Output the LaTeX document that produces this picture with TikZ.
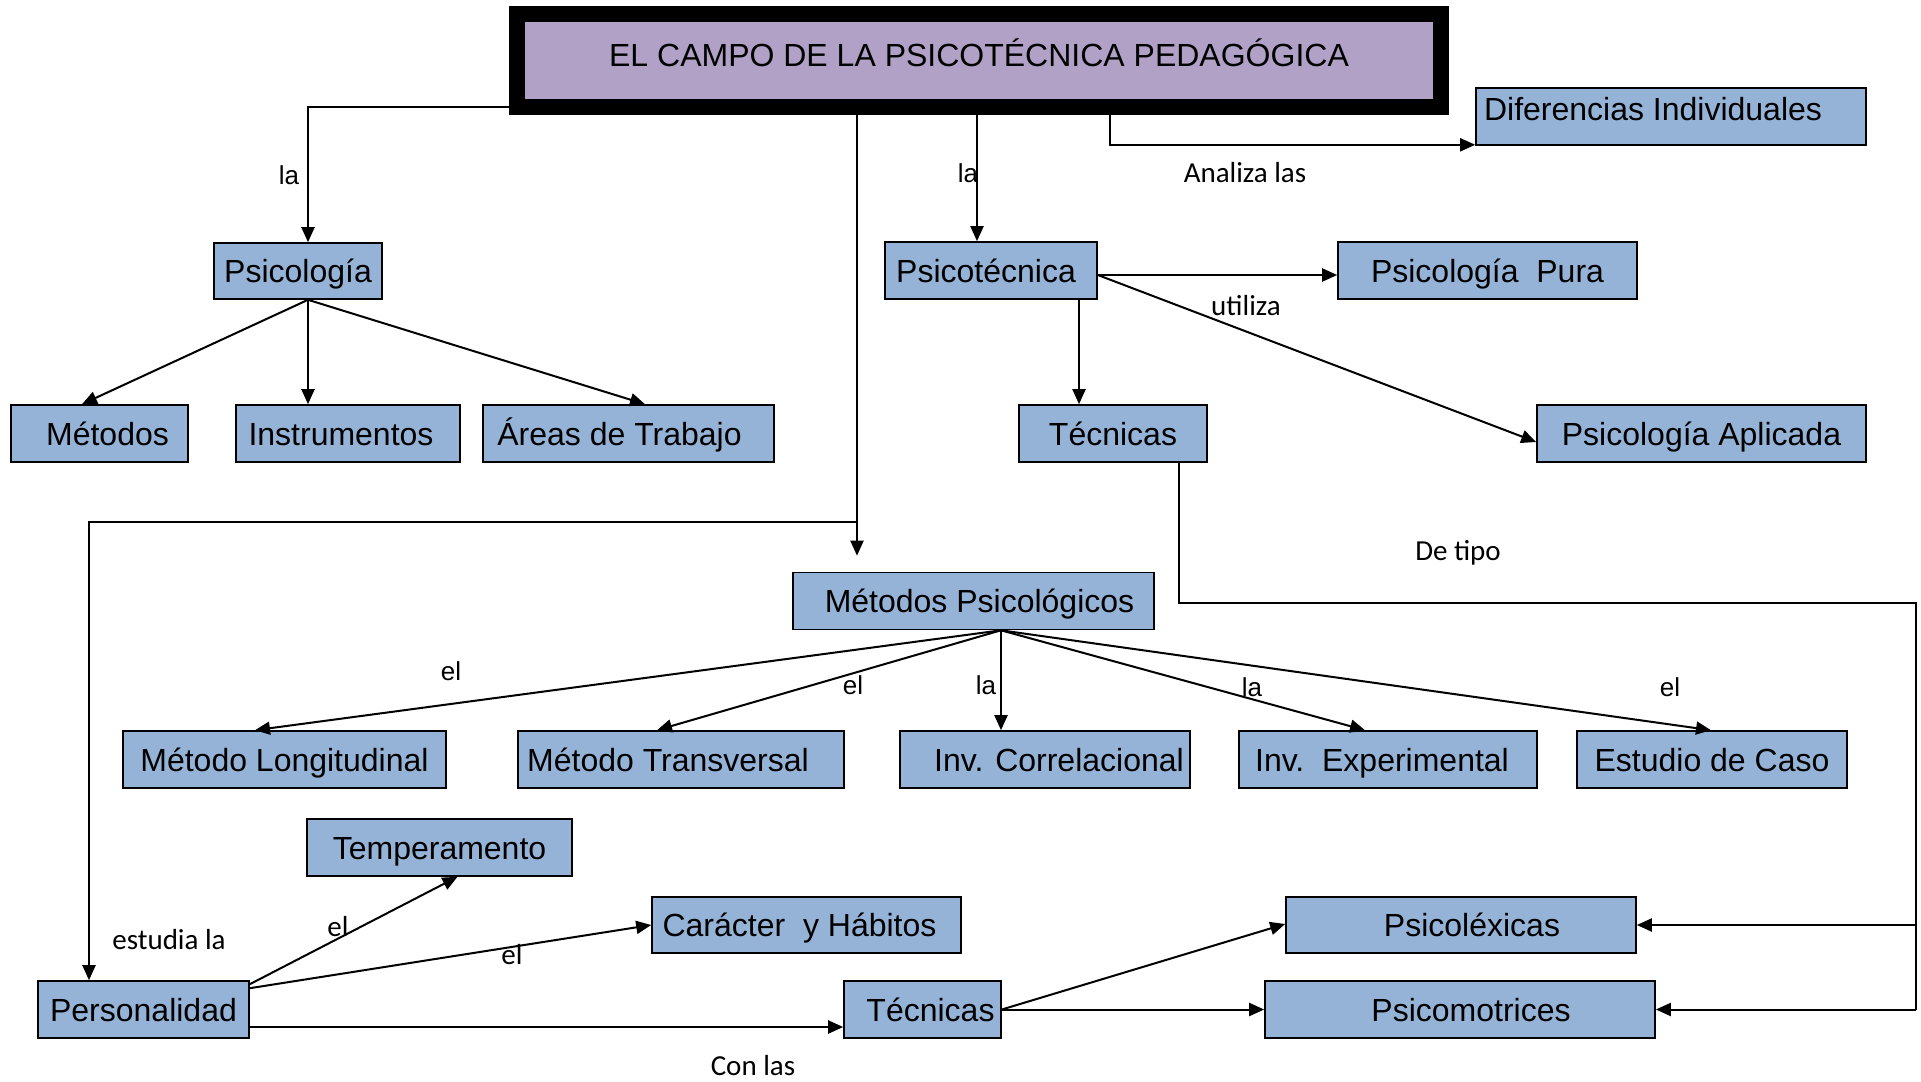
\documentclass[tikz,border=0pt]{standalone}
\usepackage{fontspec}
\setmainfont{Liberation Sans}
\newfontfamily\calfont{Carlito}
\usetikzlibrary{arrows.meta,calc}
\definecolor{boxblue}{HTML}{95B3D7}
\definecolor{titlepurple}{HTML}{B2A1C7}
\newcommand{\tx}[2]{\hspace*{#1pt}#2}
\begin{document}
\begin{tikzpicture}[x=0.5pt,y=-0.5pt,
  box/.style={draw=black, line width=0.8pt, fill=boxblue, inner sep=0pt, minimum height=28.5pt, text height=13pt, text depth=1.5pt, font=\fontsize{16}{19}\selectfont},
  titlebox/.style={draw=black, line width=8pt, outer sep=0pt, fill=titlepurple, inner sep=0pt, minimum width=462pt, minimum height=46.5pt, text height=9pt, text depth=2.5pt, font=\fontsize{16}{19}\selectfont},
  lab/.style={font=\fontsize{13}{15}\selectfont, inner sep=0pt},
  clab/.style={font=\calfont\fontsize{14.5}{17}\selectfont, inner sep=0pt},
  conn/.style={line width=1pt, -{Triangle[length=7.5pt,width=6.5pt]}},
  thinline/.style={line width=0.6pt}]
\useasboundingbox (0,0) rectangle (1921,1081);
\fill[white] (0,0) rectangle (1921,1081);

% nodes
\node[titlebox] (title) at (979,60.5) {EL CAMPO DE LA PSICOTÉCNICA PEDAGÓGICA};
\node[box, minimum width=195pt, text height=8pt, text depth=4pt] (difind) at (1671,116.5) {\tx{-18}{Diferencias Individuales}};
\node[box, minimum width=84pt, minimum height=28pt] (psi) at (298,271) {Psicología};
\node[box, minimum width=88.5pt] (met) at (99.5,433.5) {\tx{8}{Métodos}};
\node[box, minimum width=112pt] (ins) at (348,433.5) {\tx{-7}{Instrumentos}};
\node[box, minimum width=145.5pt] (are) at (628.5,433.5) {\tx{-9}{Áreas de Trabajo}};
\node[box, minimum width=106pt] (ptec) at (991,270.5) {\tx{-5}{Psicotécnica}};
\node[box, minimum width=149.5pt] (ppura) at (1487.5,270.5) {Psicología\ \ Pura};
\node[box, minimum width=94pt] (tec1) at (1113,433.5) {Técnicas};
\node[box, minimum width=164.5pt] (papl) at (1701.5,433.5) {Psicología Aplicada};
\node[box, minimum width=180.5pt] (mps) at (973.5,601) {\tx{6}{Métodos Psicológicos}};
\node[box, minimum width=161.5pt] (mlong) at (284.5,759.5) {Método Longitudinal};
\node[box, minimum width=163pt] (mtrans) at (681,759.5) {\tx{-13}{Método Transversal}};
\node[box, minimum width=145pt] (icorr) at (1045,759.5) {\tx{14}{Inv. Correlacional}};
\node[box, minimum width=149pt] (iexp) at (1388,759.5) {\tx{-6}{Inv.\ \ Experimental}};
\node[box, minimum width=135pt] (ecaso) at (1712,759.5) {Estudio de Caso};
\node[box, minimum width=132.5pt] (temp) at (439.5,847.5) {Temperamento};
\node[box, minimum width=154.5pt, minimum height=28pt] (car) at (806.5,925) {\tx{-7}{Carácter\ \ y Hábitos}};
\node[box, minimum width=105.5pt] (pers) at (143.5,1009.5) {Personalidad};
\node[box, minimum width=78.5pt] (tec2) at (922.5,1009.5) {\tx{8}{Técnicas}};
\node[box, minimum width=175pt, minimum height=28pt] (plex) at (1461,925) {\tx{11}{Psicoléxicas}};
\node[box, minimum width=195pt] (pmot) at (1460,1009.5) {\tx{11}{Psicomotrices}};

% connectors from title
\draw[conn] (title.south west) -| ($(psi.north)+(10,0)$);
\coordinate (tA) at ($(title.south)+(-122,0)$);
\coordinate (tAend) at ($(tA |- mps.north)+(0,-16)$);
\draw[conn] (tA) -- (tAend);
\coordinate (jn) at ($(tA)+(0,415)$);
\draw[conn] (jn) -| ($(pers.north)+(-54.5,0)$);
\coordinate (tB) at ($(title.south)+(-2,0)$);
\draw[conn] (tB) -- (tB |- ptec.north);
\coordinate (tC) at ($(title.south)+(131,0)$);
\draw[conn] (tC) |- ($(difind.south west)+(0,-1)$);

% Psicotecnica
\draw[conn] ($(ptec.east)+(0,4.5)$) -- ($(ppura.west)+(0,4.5)$);
\draw[conn] ($(ptec.east)+(0,4.5)$) -- ($(papl.west)+(0,8.5)$);
\coordinate (pt1) at ($(ptec.south)+(88,0)$);
\draw[conn] (pt1) -- (pt1 |- tec1.north);

% Psicologia
\coordinate (ps) at ($(psi.south)+(10,0)$);
\draw[conn] (ps) -- ($(met.north)+(-17.5,0)$);
\draw[conn] (ps) -- (ps |- ins.north);
\draw[conn] (ps) -- ($(are.north)+(16.5,0)$);

% Tecnicas (upper) route
\coordinate (t1s) at ($(tec1.south)+(66,0)$);
\coordinate (rt) at (1916,603);
\draw[thinline] (t1s) |- (rt) -- (rt |- pmot.east);
\draw[conn] (rt |- pmot.east) -- (pmot.east);
\draw[conn] (rt |- plex.east) -- (plex.east);

% Metodos Psicologicos
\coordinate (ms) at ($(mps.south)+(27.5,0)$);
\draw[conn] (ms) -- ($(mlong.north)+(-29.5,0)$);
\draw[conn] (ms) -- ($(mtrans.north)+(-24,0)$);
\draw[conn] (ms) -- (ms |- icorr.north);
\draw[conn] (ms) -- ($(iexp.north)+(-23,0)$);
\draw[conn] (ms) -- ($(ecaso.north)+(-1,0)$);

% Personalidad
\draw[conn] ($(pers.north east)+(0,4)$) -- ($(temp.south)+(18,0)$);
\draw[conn] ($(pers.north east)+(0,8)$) -- (car.west);
\draw[conn] ($(pers.east)+(0,17.5)$) -- ($(tec2.west)+(0,17.5)$);

% Tecnicas (lower)
\draw[conn] (tec2.east) -- ($(plex.west)+(0,-1)$);
\draw[conn] (tec2.east) -- (pmot.west);

% labels
\node[lab] (l1) at (289,175) {la};
\node[lab] (l2) at (968,173) {la};
\node[clab] (l3) at (1245,173) {Analiza las};
\node[clab] (l4) at (1246,306) {utiliza};
\node[clab] (l5) at (1458,553) {De tipo};
\node[lab] (l6) at (451,671) {el};
\node[lab] (l7) at (853,685) {el};
\node[lab] (l8) at (986,685) {la};
\node[lab] (l9) at (1252,687) {la};
\node[lab] (l10) at (1670,687) {el};
\node[clab] (l11) at (169,940) {estudia la};
\node[clab] (l12) at (338,927) {el};
\node[clab] (l13) at (512,955) {el};
\node[clab] (l14) at (753,1066) {Con las};
\end{tikzpicture}
\end{document}
